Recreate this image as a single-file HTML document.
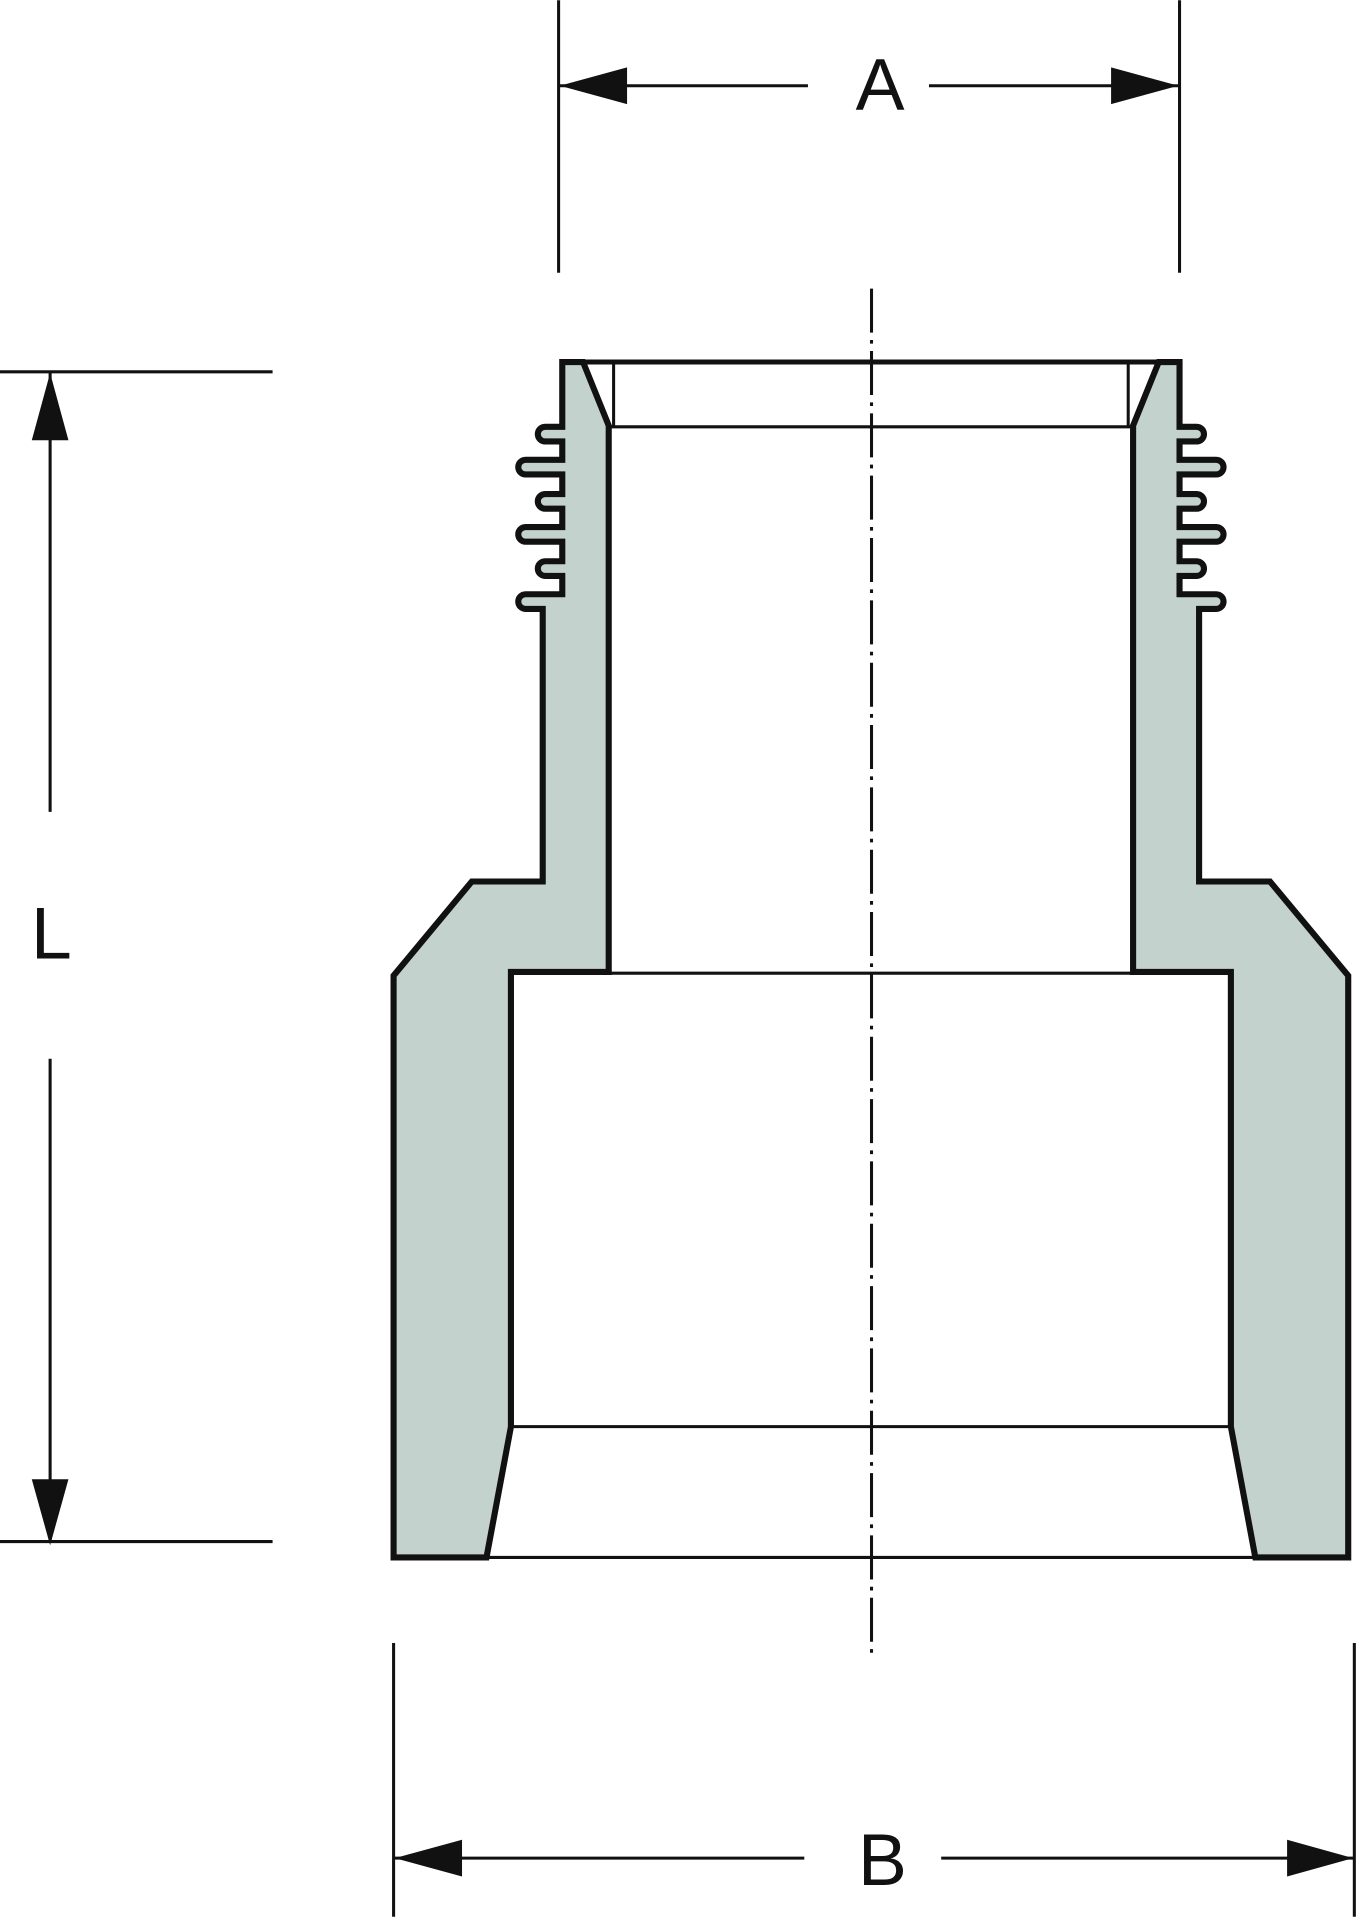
<!DOCTYPE html>
<html><head><style>html,body{margin:0;padding:0;background:#fff}svg{display:block}</style></head>
<body>
<svg width="1358" height="1917" viewBox="0 0 1111 1568" xmlns="http://www.w3.org/2000/svg">
<g id="half">
<path d="M460,296 L477,296 L498,348 L498,795 L418,795 L418,1167 L398,1274 L322,1274 L322,798 L386,721 L444,721 L444,498 L430,498 A6,6 0 0 1 430,486 L460,486 L460,471 L446,471 A6,6 0 0 1 446,459 L460,459 L460,443 L430,443 A6,6 0 0 1 430,431 L460,431 L460,416 L446,416 A6,6 0 0 1 446,404 L460,404 L460,388 L430,388 A6,6 0 0 1 430,376 L460,376 L460,361 L446,361 A6,6 0 0 1 446,349 L460,349 Z" fill="#c4d2ce" stroke="#111" stroke-width="5" stroke-linejoin="miter"/>
<line x1="502" y1="296" x2="502" y2="349" stroke="#111" stroke-width="2.5"/>
</g>
<use href="#half" transform="translate(1425,0) scale(-1,1)"/>
<g stroke="#111" stroke-width="2.5">
<line x1="460" y1="296" x2="965" y2="296" stroke-width="4"/>
<line x1="498" y1="349" x2="927" y2="349"/>
<line x1="498" y1="796" x2="927" y2="796"/>
<line x1="418" y1="1167" x2="1007" y2="1167"/>
<line x1="398" y1="1274" x2="1027" y2="1274"/>
<line x1="713" y1="236" x2="713" y2="1357" stroke-dasharray="36,6,3,6"/>
<!-- A -->
<line x1="457" y1="0" x2="457" y2="223"/>
<line x1="965" y1="0" x2="965" y2="223"/>
<line x1="457" y1="70" x2="661" y2="70"/>
<line x1="760" y1="70" x2="965" y2="70"/>
<!-- L -->
<line x1="0" y1="304" x2="223" y2="304"/>
<line x1="0" y1="1261" x2="223" y2="1261"/>
<line x1="41" y1="304" x2="41" y2="664"/>
<line x1="41" y1="866" x2="41" y2="1261"/>
<!-- B -->
<line x1="322" y1="1344" x2="322" y2="1568"/>
<line x1="1108" y1="1344" x2="1108" y2="1568"/>
<line x1="322" y1="1520" x2="658" y2="1520"/>
<line x1="770" y1="1520" x2="1108" y2="1520"/>
</g>
<g fill="#111">
<polygon points="458,70 513,55 513,85"/>
<polygon points="964,70 909,55 909,85"/>
<polygon points="41,305 26,360 56,360"/>
<polygon points="41,1264 26,1210 56,1210"/>
<polygon points="323,1520 378,1505 378,1535"/>
<polygon points="1107,1520 1053,1505 1053,1535"/>
</g>
<g font-family="Liberation Sans, sans-serif" font-size="60" fill="#111" text-anchor="middle">
<text x="720" y="90">A</text>
<text x="42" y="784">L</text>
<text x="722" y="1542">B</text>
</g>
</svg>
</body></html>
